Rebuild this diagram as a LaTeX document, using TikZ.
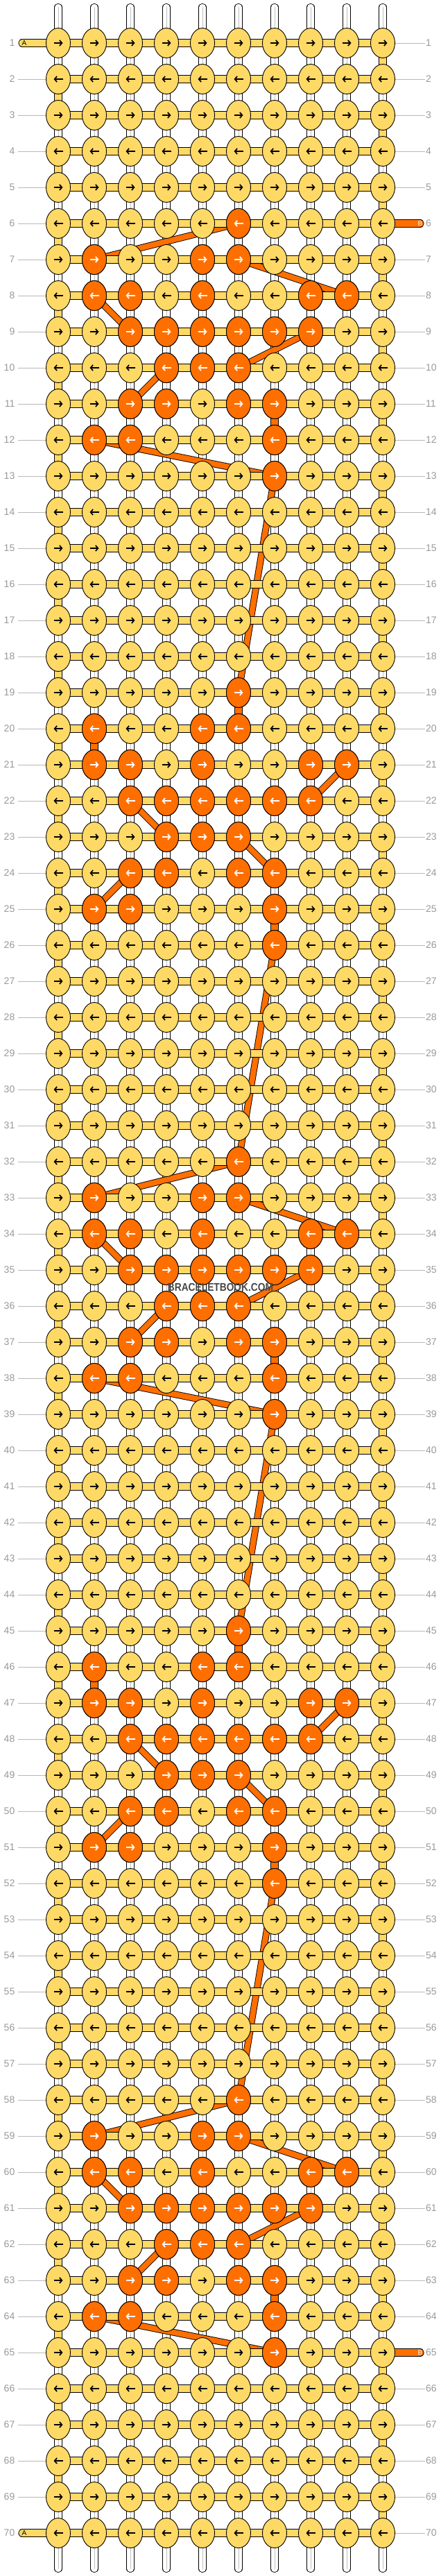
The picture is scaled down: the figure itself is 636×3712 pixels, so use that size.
\documentclass[tikz,border=0pt]{standalone}
\usepackage{fontspec}
\setmainfont{Liberation Sans}
\usetikzlibrary{shapes.geometric,arrows.meta}

\definecolor{yarnA}{HTML}{FFD966}
\definecolor{yarnB}{HTML}{FF6F00}
\definecolor{rowgray}{HTML}{999999}

\pgfdeclarelayer{strands}
\pgfdeclarelayer{bthread}
\pgfdeclarelayer{bars}
\pgfsetlayers{strands,bthread,bars,main}

\tikzset{
  knot/.style={ellipse, draw, line width=.9pt, fill=yarnA, minimum width=35pt, minimum height=43pt, inner sep=0pt},
  knotB/.style={knot, fill=yarnB},
  knotarrow/.style={line width=1.7pt, >={Straight Barb[length=3.5pt,width=8pt]}},
  strand/.style={draw=black, line width=.9pt, double=white, double distance=9.5pt, postaction={draw=black!25, line width=.6pt}},
  yarnstrand/.style={draw=black, line width=.9pt, double=yarnA, double distance=9.5pt},
  bstrand/.style={draw=black, line width=.9pt, double=yarnB, double distance=9.5pt},
  bline/.style={draw=black, line width=.9pt, double=yarnB, double distance=8pt},
  rowno/.style={text=rowgray, font=\fontsize{14}{14}\selectfont, inner ysep=0pt},
  rowline/.style={draw=black!28, line width=.8pt},
  endlabel/.style={font=\fontsize{10}{10}\selectfont, inner sep=0pt},
}

\begin{document}
\begin{tikzpicture}[x=1pt, y=-1pt]
  \useasboundingbox (0,0) rectangle (636,3712);

  % knots, thread A on top
  \foreach \r in {1,...,70} {
    \foreach \c in {1,...,10} {
      \node[knot] (k-\r-\c) at ({84+52*(\c-1)}, {62+52*(\r-1)}) {};
      \ifodd\r\relax
        \draw[knotarrow, ->] ([xshift=-6.5pt]k-\r-\c.center) -- ([xshift=6.5pt]k-\r-\c.center);
      \else
        \draw[knotarrow, <-] ([xshift=-6.5pt]k-\r-\c.center) -- ([xshift=6.5pt]k-\r-\c.center);
      \fi
    }
  }

  % knots, thread B on top (same motif five times)
  \foreach \s in {6,19,32,45,58} {
    \foreach \o/\cols in {0/{6}, 1/{2,5,6}, 2/{2,3,5,8,9}, 3/{3,4,5,6,7,8}, 4/{4,5,6}, 5/{3,4,6,7}, 6/{2,3,7}, 7/{7}} {
      \pgfmathtruncatemacro\r{\s+\o}
      \foreach \c in \cols {
        \node[knotB] (k-\r-\c) at ({84+52*(\c-1)}, {62+52*(\r-1)}) {};
        \ifodd\r\relax
          \draw[knotarrow, draw=white, ->] ([xshift=-6.5pt]k-\r-\c.center) -- ([xshift=6.5pt]k-\r-\c.center);
        \else
          \draw[knotarrow, draw=white, <-] ([xshift=-6.5pt]k-\r-\c.center) -- ([xshift=6.5pt]k-\r-\c.center);
        \fi
      }
    }
  }

  % row numbers
  \foreach \r in {1,...,70} {
    \node[rowno, anchor=east, inner xsep=4.5pt] (ln-\r) at (26, {62+52*(\r-1)}) {\r};
    \node[rowno, anchor=west, inner xsep=1.5pt] (rn-\r) at (612.5, {62+52*(\r-1)}) {\r};
  }

  \node[font=\bfseries\fontsize{16}{16}\selectfont, text=black!72] (mark) at (318,1855) {\scalebox{.86}[1]{BRACELETBOOK.COM}};

  \begin{pgfonlayer}{strands}
    % vertical strands
    \foreach \r in {1,...,69} {
      \pgfmathtruncatemacro\n{\r+1}
      \foreach \c in {1,...,10}
        \draw[strand] (k-\r-\c.center) -- (k-\n-\c.center);
    }
    % A turning at the edges
    \foreach \r in {1,3,...,69} {
      \pgfmathtruncatemacro\n{\r+1}
      \draw[yarnstrand] (k-\r-10.center) -- (k-\n-10.center);
    }
    \foreach \r in {2,4,...,68} {
      \pgfmathtruncatemacro\n{\r+1}
      \draw[yarnstrand] (k-\r-1.center) -- (k-\n-1.center);
    }
    % loose ends top and bottom
    \foreach \c in {1,...,10} {
      \coordinate (top-\c) at ({84+52*(\c-1)}, 10.5);
      \coordinate (bot-\c) at ({84+52*(\c-1)}, 3701.5);
      \draw[strand, line cap=round] (top-\c) -- (k-1-\c.center);
      \draw[strand, line cap=round] (k-70-\c.center) -- (bot-\c);
    }
  \end{pgfonlayer}

  \begin{pgfonlayer}{bthread}
    % B going down straight
    \foreach \r/\c in {11/7, 19/6, 20/2, 25/7, 37/7, 45/6, 46/2, 51/7, 63/7} {
      \pgfmathtruncatemacro\n{\r+1}
      \draw[bstrand] (k-\r-\c.center) -- (k-\n-\c.center);
    }
    % B behind, first motif
    \foreach \s in {6,32,58} {
      \foreach \ra/\ca/\rb/\cb in {0/6/1/2, 1/6/2/9, 2/2/3/3, 3/8/4/6, 4/4/5/3, 6/2/7/7} {
        \pgfmathtruncatemacro\ri{\s+\ra}
        \pgfmathtruncatemacro\rj{\s+\rb}
        \draw[bline] (k-\ri-\ca.center) -- (k-\rj-\cb.center);
      }
    }
    % B behind, second motif
    \foreach \s in {19,45} {
      \foreach \ra/\ca/\rb/\cb in {2/9/3/8, 3/3/4/4, 4/6/5/7, 5/3/6/2} {
        \pgfmathtruncatemacro\ri{\s+\ra}
        \pgfmathtruncatemacro\rj{\s+\rb}
        \draw[bline] (k-\ri-\ca.center) -- (k-\rj-\cb.center);
      }
    }
    % long jumps between motifs
    \foreach \ra/\rb in {13/19, 26/32, 39/45, 52/58}
      \draw[bline] (k-\ra-7.center) -- (k-\rb-6.center);
  \end{pgfonlayer}

  \begin{pgfonlayer}{bars}
    % A across each row
    \foreach \r in {1,...,70} {
      \foreach \c in {1,...,9} {
        \pgfmathtruncatemacro\n{\c+1}
        \draw[yarnstrand] (k-\r-\c.center) -- (k-\r-\n.center);
      }
    }
    % row lines
    \foreach \r in {1,...,70} {
      \ifnum\r=1 \else\ifnum\r=70 \else
        \draw[rowline] (ln-\r) -- (k-\r-1);
      \fi\fi
      \ifnum\r=6 \else\ifnum\r=65 \else
        \draw[rowline] (k-\r-10) -- (rn-\r);
      \fi\fi
    }
    % thread ends A and B
    \foreach \r in {1,70} {
      \coordinate (endA-\r) at (32, {62+52*(\r-1)});
      \draw[yarnstrand, line cap=round] (endA-\r) -- (k-\r-1.center);
    }
    \foreach \r in {6,65} {
      \coordinate (endB-\r) at (606, {62+52*(\r-1)});
      \draw[bstrand, line cap=round] (k-\r-10.center) -- (endB-\r);
    }
  \end{pgfonlayer}

  \foreach \r in {1,70}
    \node[endlabel] (labA-\r) at (35, {62+52*(\r-1)}) {A};
  \foreach \r in {6,65}
    \node[endlabel, text=white] (labB-\r) at (606, {62+52*(\r-1)}) {B};

\end{tikzpicture}
\end{document}
